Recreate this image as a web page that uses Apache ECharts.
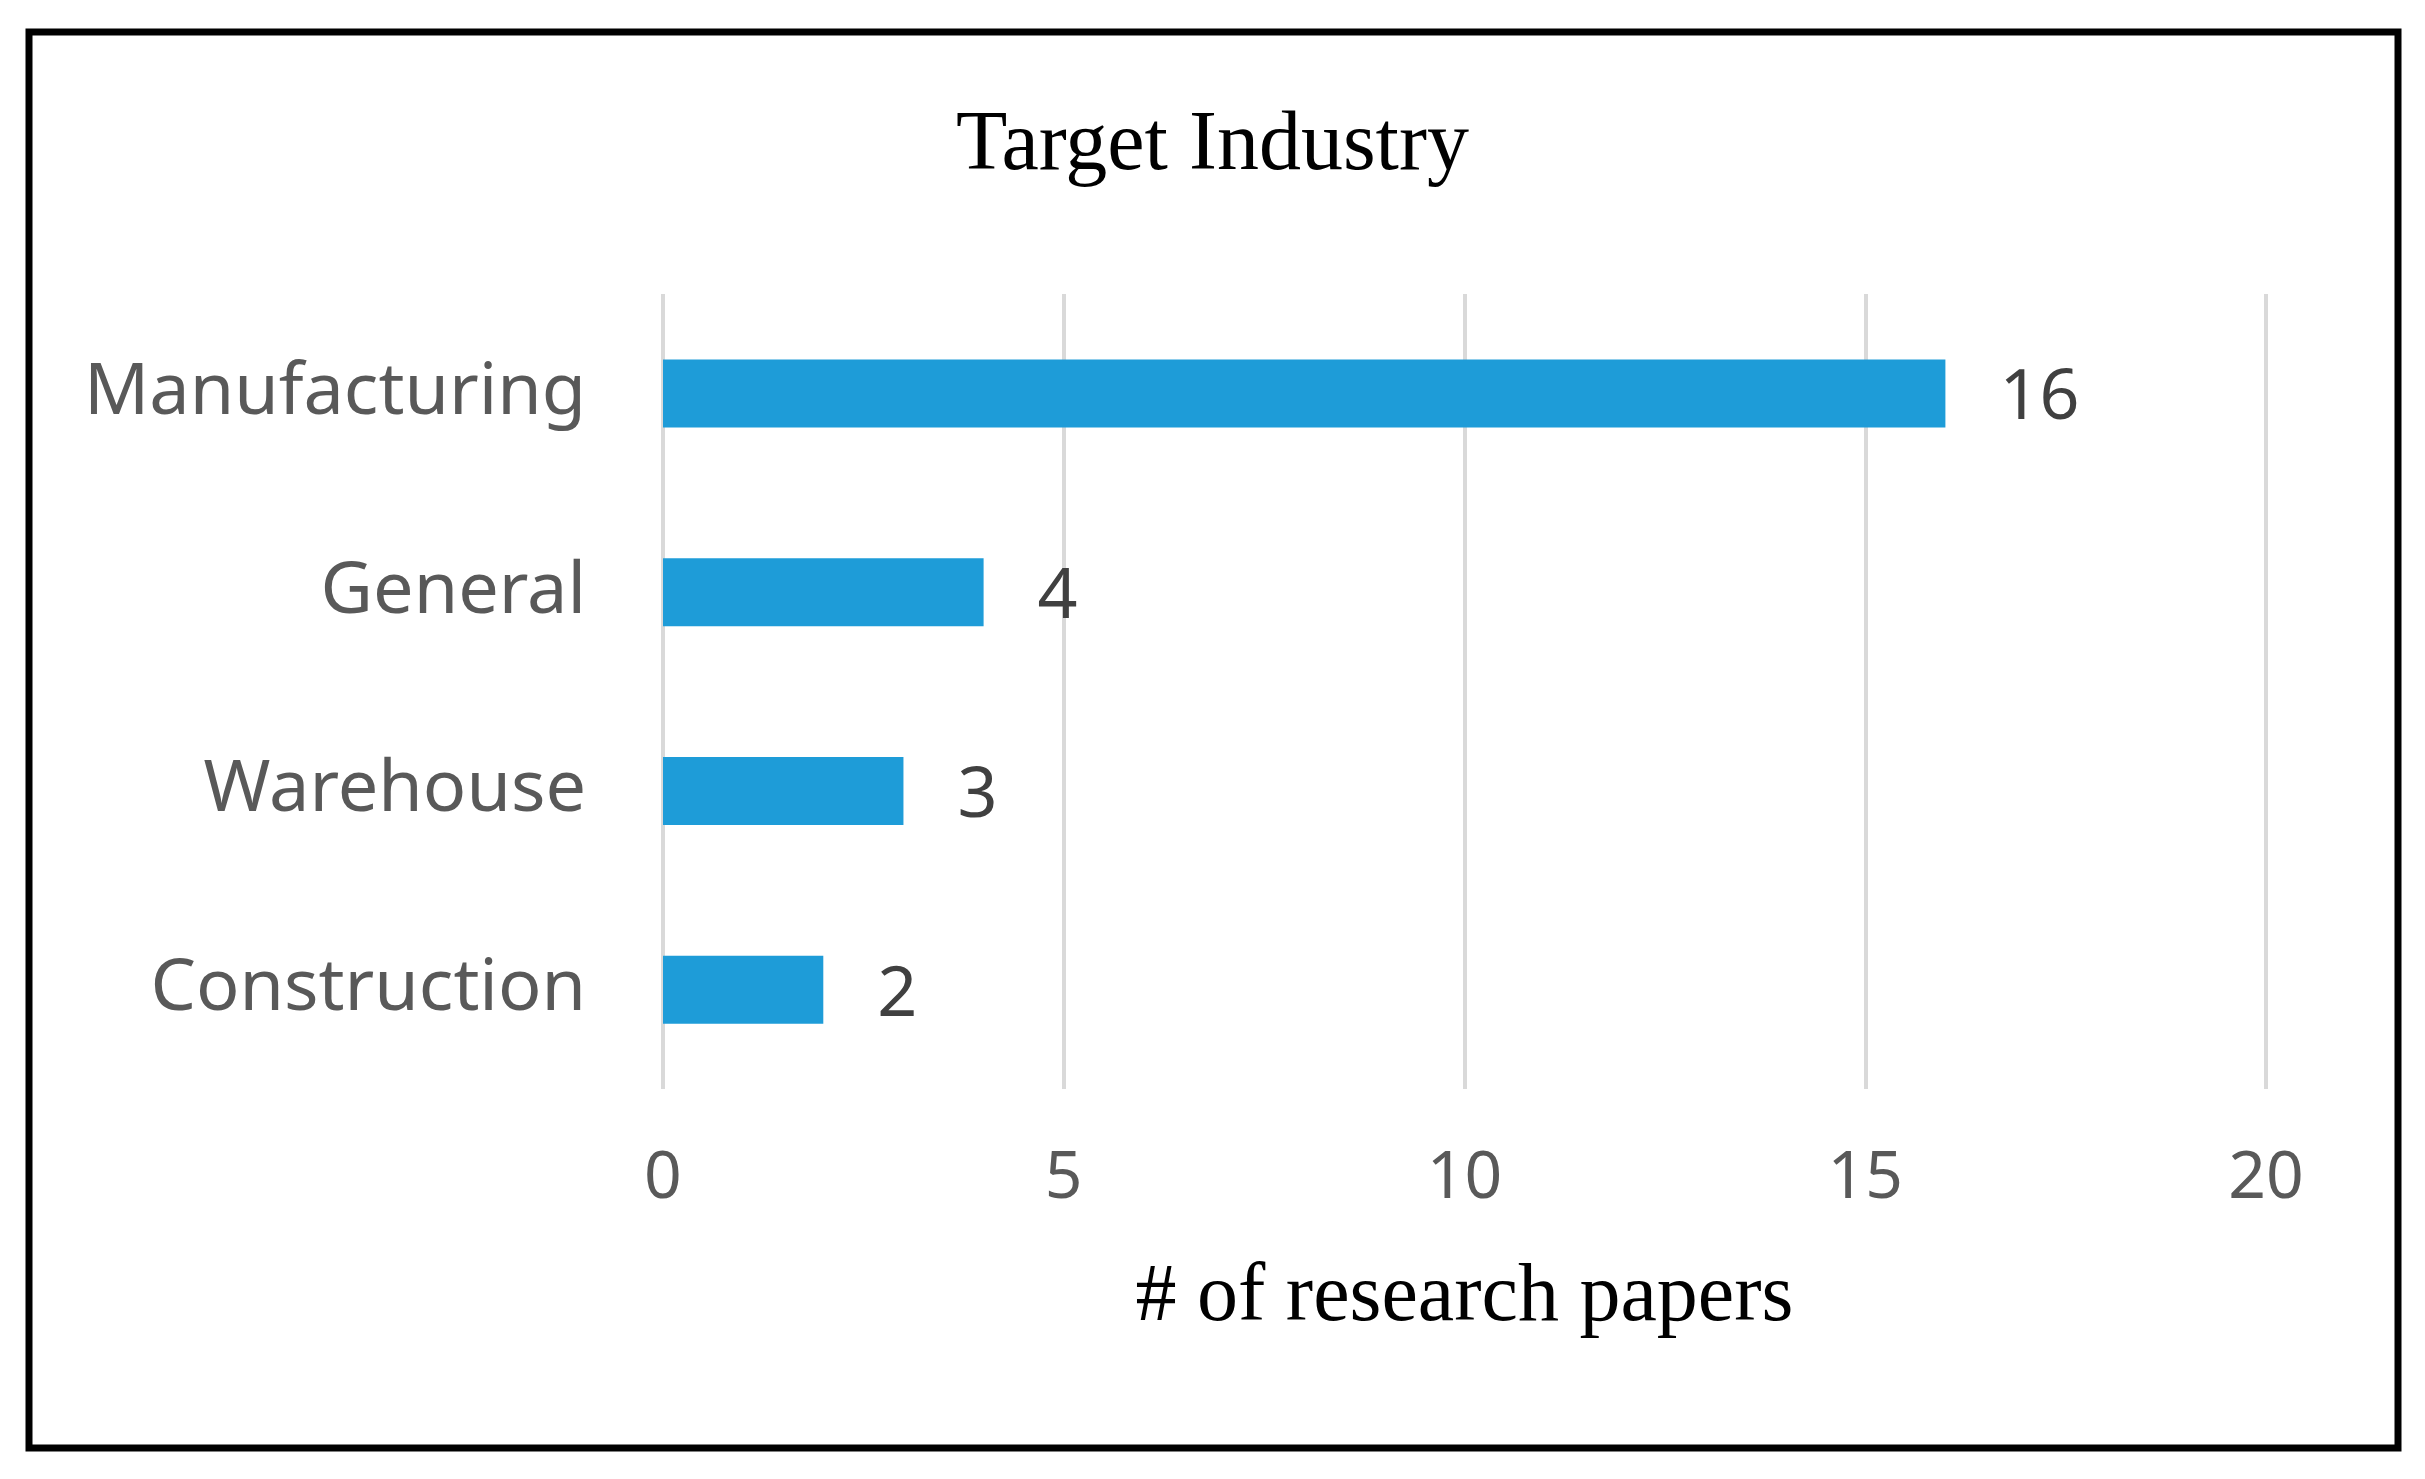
<!DOCTYPE html>
<html>
<head>
<meta charset="utf-8">
<script src="https://cdn.jsdelivr.net/npm/echarts@6/dist/echarts.min.js"></script>
<style>
html,body{margin:0;padding:0;background:#fff;}
#chart{width:2425px;height:1479px;}
</style>
</head>
<body>
<div id="chart"></div>
<script>
const categories = ['Construction', 'Warehouse', 'General', 'Manufacturing'];
const values = [2, 3, 4, 16];
const xTicks = [0, 5, 10, 15, 20];
const titleText = 'Target Industry';
const xAxisName = '# of research papers';

const chart = echarts.init(document.getElementById('chart'));
chart.setOption({
  backgroundColor: '#ffffff',
  animation: false,
  graphic: [{
    type: 'rect',
    shape: { x: 29, y: 32, width: 2369, height: 1416 },
    style: { fill: 'none', stroke: '#000000', lineWidth: 7 },
    z: 100
  }],
  title: {
    text: titleText,
    left: 'center',
    top: 100,
    textStyle: { fontFamily: 'Liberation Serif', fontSize: 84, fontWeight: 'normal', color: '#000000', lineHeight: 84 }
  },
  grid: { left: 663, right: 159, top: 294, bottom: 390, containLabel: false },
  xAxis: {
    type: 'value',
    min: xTicks[0],
    max: xTicks[xTicks.length - 1],
    interval: 5,
    name: xAxisName,
    nameLocation: 'middle',
    nameGap: 168,
    nameTextStyle: { fontFamily: 'Liberation Serif', fontSize: 82, color: '#000000', lineHeight: 82 },
    axisLine: { show: false },
    axisTick: { show: false },
    axisLabel: { margin: 57, fontFamily: 'Noto Sans', fontSize: 66, color: '#595959', lineHeight: 66 },
    splitLine: { show: true, lineStyle: { color: '#d9d9d9', width: 4 } }
  },
  yAxis: {
    type: 'category',
    data: categories,
    axisLine: { show: false },
    axisTick: { show: false },
    axisLabel: { margin: 77, fontFamily: 'Noto Sans', fontSize: 72, color: '#595959' },
    splitLine: { show: false }
  },
  series: [{
    type: 'bar',
    data: values,
    barWidth: 68,
    itemStyle: { color: '#1e9cd8' },
    label: {
      show: true,
      position: 'right',
      distance: 54,
      offset: [0, 6],
      fontFamily: 'Noto Sans',
      fontSize: 70,
      color: '#404040'
    }
  }]
});
</script>
</body>
</html>
